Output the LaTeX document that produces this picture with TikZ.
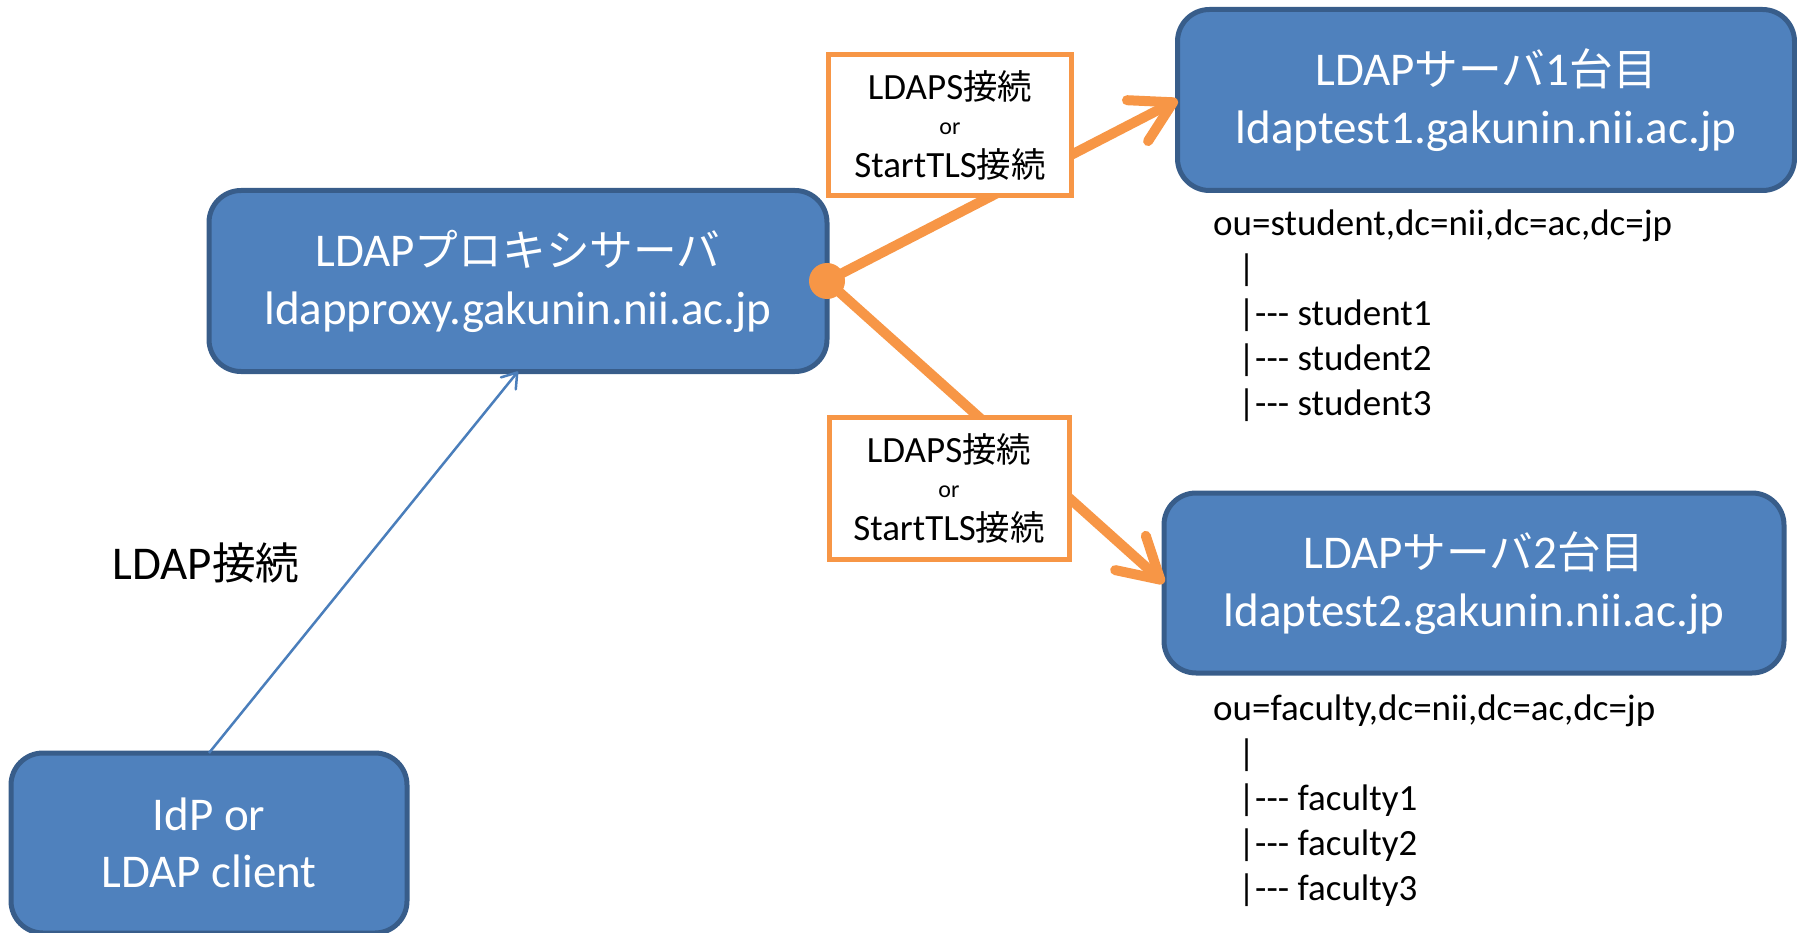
\documentclass[tikz,border=0pt]{standalone}
\usepackage{fontspec}
\setmainfont{Carlito}
\newfontfamily\jpfont{Noto Sans CJK JP}[Scale=0.93]
\newcommand\jtext[1]{{\jpfont #1}}
\usetikzlibrary{arrows.meta}
\definecolor{boxfill}{HTML}{4F81BD}
\definecolor{boxline}{HTML}{385D8A}
\definecolor{linkcol}{HTML}{F79646}
\definecolor{clientcol}{HTML}{4A7EBB}

\tikzset{
  server/.style={draw=boxline, line width=5pt, fill=boxfill, rounded corners=32pt,
    text=white, align=center, font=\fontsize{47}{58}\selectfont,
    inner sep=0pt, outer sep=0pt},
  proto/.style={draw=linkcol, line width=5pt, fill=white, align=center,
    font=\fontsize{37}{35}\selectfont, inner sep=0pt, outer sep=0pt},
  secure/.style={draw=linkcol, line width=10pt, line cap=round,
    -{Straight Barb[length=40pt,width=46pt,line cap=round,line join=round]}},
  plainlink/.style={draw=clientcol, line width=2.5pt,
    -{Straight Barb[length=14pt,width=19pt,line cap=round,line join=round]}},
  tree/.style={anchor=base west, inner sep=0pt, font=\fontsize{37}{45}\selectfont}
}

\begin{document}
\begin{tikzpicture}[x=1pt,y=-1pt]
  \useasboundingbox (0,0) rectangle (1797,933);

  % servers and client
  \node[server, minimum width=618pt, minimum height=181pt] (proxy) at (518,281)
    {LDAP\jtext{プロキシサーバ}\\ldapproxy.gakunin.nii.ac.jp};
  \node[server, minimum width=617pt, minimum height=181pt] (s1) at (1486,100)
    {LDAP\jtext{サーバ}1\jtext{台目}\\ldaptest1.gakunin.nii.ac.jp};
  \node[server, minimum width=620pt, minimum height=180pt] (s2) at (1474,583)
    {LDAP\jtext{サーバ}2\jtext{台目}\\ldaptest2.gakunin.nii.ac.jp};
  \node[server, minimum width=396pt, minimum height=180pt, font=\fontsize{47}{57}\selectfont]
    (client) at (209,843) {IdP or\\LDAP client};

  % client to proxy
  \draw[plainlink] (client.north) -- (proxy.south);
  \node[font=\fontsize{47}{52}\selectfont, inner sep=0pt] (plainlabel) at (206,563)
    {LDAP\jtext{接続}};

  % proxy to the two back-end servers
  \coordinate (hub) at (proxy.east);
  \draw[secure] (hub) -- (s1.west);
  \draw[secure] (hub) -- (s2.west);

  \node[proto, minimum width=243pt, minimum height=141pt] (lab1) at (950,125)
    {LDAPS\jtext{接続}\\{\fontsize{24}{24}\selectfont or}\\[8pt]StartTLS\jtext{接続}};
  \node[proto, minimum width=240pt, minimum height=142pt] (lab2) at (949,488)
    {LDAPS\jtext{接続}\\{\fontsize{24}{24}\selectfont or}\\[8pt]StartTLS\jtext{接続}};

  \fill[linkcol] (hub) circle (18pt);

  % directory trees
  \node[tree] (tree1) at (1213,236) {\begin{tabular}[t]{@{}l@{}}
    ou=student,dc=nii,dc=ac,dc=jp\\
    \hspace*{25pt}|\\
    \hspace*{25pt}|-{}-{}- student1\\
    \hspace*{25pt}|-{}-{}- student2\\
    \hspace*{25pt}|-{}-{}- student3
  \end{tabular}};
  \node[tree] (tree2) at (1213,720) {\begin{tabular}[t]{@{}l@{}}
    ou=faculty,dc=nii,dc=ac,dc=jp\\
    \hspace*{25pt}|\\
    \hspace*{25pt}|-{}-{}- faculty1\\
    \hspace*{25pt}|-{}-{}- faculty2\\
    \hspace*{25pt}|-{}-{}- faculty3
  \end{tabular}};
\end{tikzpicture}
\end{document}
